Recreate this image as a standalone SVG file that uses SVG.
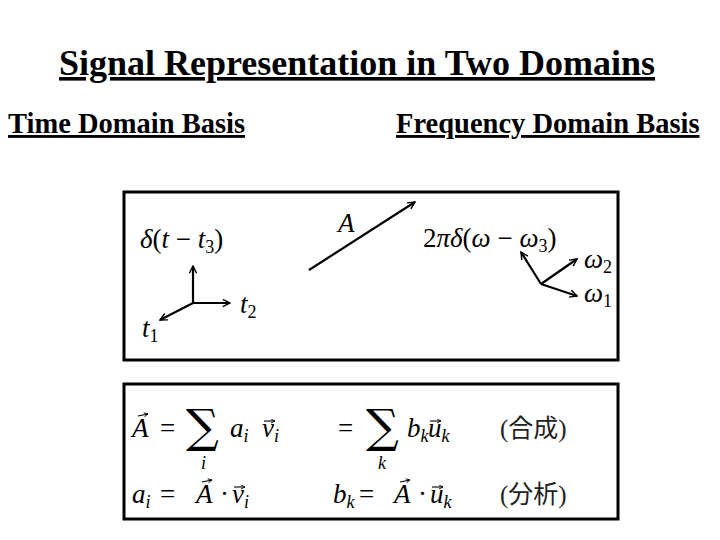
<svg xmlns="http://www.w3.org/2000/svg" width="720" height="540" viewBox="0 0 720 540">
<defs>
<marker id="ah" viewBox="0 0 10 10" refX="9" refY="5" markerWidth="9" markerHeight="9" markerUnits="userSpaceOnUse" orient="auto"><path d="M1,1 L9,5 L1,9" fill="none" stroke="#000" stroke-width="1.6"/></marker>
<marker id="vh" viewBox="0 0 10 10" refX="9" refY="5" markerWidth="5" markerHeight="5" markerUnits="userSpaceOnUse" orient="auto"><path d="M1,1 L9,5 L1,9" fill="none" stroke="#000" stroke-width="1.8"/></marker>
</defs>
<style>
.h{font-family:"Liberation Serif",serif;font-weight:bold;text-decoration:underline;fill:#000}
.m{font-family:"Liberation Serif",serif;font-size:27px;fill:#000}
.i{font-style:italic}
.s{font-size:18px}
.sg{font-family:"DejaVu Serif",serif;font-size:46px;fill:#000}
.box{fill:#fff;stroke:#000;stroke-width:3}
.ax{stroke:#000;stroke-width:2.2;fill:none;marker-end:url(#ah)}
.va{stroke:#000;stroke-width:1.1;fill:none;marker-end:url(#vh)}
.cj{font-family:"Liberation Serif","Noto Sans CJK JP",serif;font-size:25px;fill:#222}
</style>
<rect width="720" height="540" fill="#fff"/>
<text class="h" x="357" y="75" font-size="36" text-anchor="middle">Signal Representation in Two Domains</text>
<text class="h" x="8" y="133" font-size="28.5">Time Domain Basis</text>
<text class="h" x="396" y="133" font-size="28.5">Frequency Domain Basis</text>
<g id="box1">
<rect class="box" x="124" y="192" width="494" height="168"/>
<text class="m" x="140" y="248"><tspan class="i">δ</tspan>(<tspan class="i">t</tspan> − <tspan class="i">t</tspan><tspan class="s" dy="5">3</tspan><tspan dy="-5">)</tspan></text>
<text class="m i" x="240" y="313">t<tspan class="s" font-style="normal" dy="5">2</tspan></text>
<text class="m i" x="142" y="337">t<tspan class="s" font-style="normal" dy="5">1</tspan></text>
<text class="m i" x="338" y="232">A</text>
<text class="m" x="423" y="247">2<tspan class="i">πδ</tspan>(<tspan class="i">ω</tspan> − <tspan class="i">ω</tspan><tspan class="s" dy="5">3</tspan><tspan dy="-5">)</tspan></text>
<text class="m i" x="584" y="268">ω<tspan class="s" font-style="normal" dy="5">2</tspan></text>
<text class="m i" x="584" y="302">ω<tspan class="s" font-style="normal" dy="5">1</tspan></text>
</g>
<g id="connectors">
<line class="ax" x1="193" y1="303" x2="193" y2="266"/>
<line class="ax" x1="193" y1="303" x2="230" y2="303"/>
<line class="ax" x1="193" y1="303" x2="160" y2="320"/>
<line class="ax" x1="309" y1="270" x2="415" y2="202"/>
<line class="ax" x1="541" y1="284" x2="521" y2="252"/>
<line class="ax" x1="541" y1="284" x2="577" y2="259"/>
<line class="ax" x1="541" y1="284" x2="577" y2="296"/>
</g>
<g id="box2">
<rect class="box" x="124" y="384" width="494" height="135"/>
<text class="m i" x="132" y="437">A</text>
<text class="m" x="160" y="437">=</text>
<text class="sg" x="186" y="442">∑</text>
<text class="m i s" x="201" y="469">i</text>
<text class="m i" x="230" y="437">a<tspan class="s" dy="5">i</tspan></text>
<text class="m i" x="262" y="437">v<tspan class="s" dy="5">i</tspan></text>
<text class="m" x="338" y="437">=</text>
<text class="sg" x="366" y="442">∑</text>
<text class="m i s" x="378" y="469">k</text>
<text class="m i" x="407" y="437">b<tspan class="s" dy="5">k</tspan></text>
<text class="m i" x="428" y="437">u<tspan class="s" dy="5">k</tspan></text>
<text class="cj" x="500" y="437">(合成)</text>
<text class="m i" x="132" y="503">a<tspan class="s" dy="5">i</tspan></text>
<text class="m" x="160" y="503">=</text>
<text class="m i" x="196" y="503">A</text>
<text class="m" x="220" y="503">·</text>
<text class="m i" x="232" y="503">v<tspan class="s" dy="5">i</tspan></text>
<text class="m i" x="333" y="503">b<tspan class="s" dy="5">k</tspan></text>
<text class="m" x="359" y="503">=</text>
<text class="m i" x="394" y="503">A</text>
<text class="m" x="418" y="503">·</text>
<text class="m i" x="430" y="503">u<tspan class="s" dy="5">k</tspan></text>
<text class="cj" x="500" y="503">(分析)</text>
<line class="va" x1="138" y1="416" x2="148" y2="414"/>
<line class="va" x1="264" y1="421" x2="275" y2="421"/>
<line class="va" x1="430" y1="421" x2="441" y2="421"/>
<line class="va" x1="202" y1="482" x2="212" y2="480"/>
<line class="va" x1="234" y1="487" x2="245" y2="487"/>
<line class="va" x1="400" y1="482" x2="410" y2="480"/>
<line class="va" x1="432" y1="487" x2="443" y2="487"/>
</g>
</svg>
